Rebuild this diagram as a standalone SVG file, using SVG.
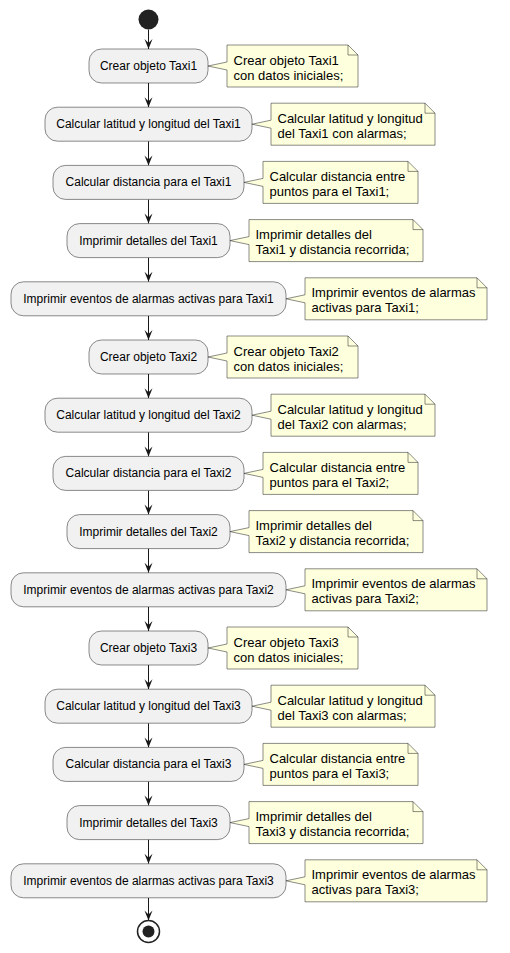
<svg xmlns="http://www.w3.org/2000/svg" width="510" height="953" viewBox="0 0 510 953">
<style>
.bg{fill:#FFFFFF}
.act rect{fill:#F1F1F1;stroke:#181818;stroke-width:0.5}
.act text{font-family:"Liberation Sans",Arial,sans-serif;font-size:12px;fill:#000000;text-anchor:middle}
.note path.b{fill:#FEFFDD;stroke:#181818;stroke-width:0.5}
.note path.f{fill:none;stroke:#181818;stroke-width:0.5}
.note text{font-family:"Liberation Sans",Arial,sans-serif;font-size:13px;fill:#000000}
.conn line{stroke:#181818;stroke-width:1;marker-end:url(#ah)}
</style>
<defs>
<marker id="ah" markerUnits="userSpaceOnUse" markerWidth="12" markerHeight="10" refX="10" refY="4" orient="auto" overflow="visible">
<path d="M0,0 L10,4 L0,8 L4,4 Z" fill="#181818"/>
</marker>
</defs>
<rect class="bg" x="0" y="0" width="510" height="953"/>

<g id="connectors" class="conn">
<line x1="148.5" y1="29.5" x2="148.5" y2="49"/>
<line x1="148.5" y1="83" x2="148.5" y2="107.2"/>
<line x1="148.5" y1="141.2" x2="148.5" y2="165.4"/>
<line x1="148.5" y1="199.4" x2="148.5" y2="223.6"/>
<line x1="148.5" y1="257.6" x2="148.5" y2="281.8"/>
<line x1="148.5" y1="315.8" x2="148.5" y2="340"/>
<line x1="148.5" y1="374" x2="148.5" y2="398.2"/>
<line x1="148.5" y1="432.2" x2="148.5" y2="456.4"/>
<line x1="148.5" y1="490.4" x2="148.5" y2="514.6"/>
<line x1="148.5" y1="548.6" x2="148.5" y2="572.8"/>
<line x1="148.5" y1="606.8" x2="148.5" y2="631"/>
<line x1="148.5" y1="665" x2="148.5" y2="689.2"/>
<line x1="148.5" y1="723.2" x2="148.5" y2="747.4"/>
<line x1="148.5" y1="781.4" x2="148.5" y2="805.6"/>
<line x1="148.5" y1="839.6" x2="148.5" y2="863.8"/>
<line x1="148.5" y1="897.8" x2="148.5" y2="920.5"/>
</g>

<g id="start"><circle cx="148.5" cy="19.5" r="10" fill="#222222"/></g>

<g id="a1" class="act"><rect x="89" y="49" width="119" height="34" rx="12.5"/><text x="148.5" y="70">Crear objeto Taxi1</text></g>
<g id="n1" class="note"><path class="b" d="M227,45 L227,62 L208,66 L227,70 L227,87 L358,87 L358,55 L348,45 Z"/><path class="f" d="M348,45 L348,55 L358,55"/><text x="233.5" y="64.5">Crear objeto Taxi1</text><text x="233.5" y="79.5">con datos iniciales;</text></g>

<g id="a2" class="act"><rect x="45" y="107.2" width="207" height="34" rx="12.5"/><text x="148.5" y="128.2">Calcular latitud y longitud del Taxi1</text></g>
<g id="n2" class="note"><path class="b" d="M271,103.2 L271,120.2 L252,124.2 L271,128.2 L271,145.2 L435,145.2 L435,113.2 L425,103.2 Z"/><path class="f" d="M425,103.2 L425,113.2 L435,113.2"/><text x="277.5" y="122.7">Calcular latitud y longitud</text><text x="277.5" y="137.7">del Taxi1 con alarmas;</text></g>

<g id="a3" class="act"><rect x="53" y="165.4" width="191" height="34" rx="12.5"/><text x="148.5" y="186.4">Calcular distancia para el Taxi1</text></g>
<g id="n3" class="note"><path class="b" d="M263,161.4 L263,178.4 L244,182.4 L263,186.4 L263,203.4 L418,203.4 L418,171.4 L408,161.4 Z"/><path class="f" d="M408,161.4 L408,171.4 L418,171.4"/><text x="269.5" y="180.9">Calcular distancia entre</text><text x="269.5" y="195.9">puntos para el Taxi1;</text></g>

<g id="a4" class="act"><rect x="67" y="223.6" width="163" height="34" rx="12.5"/><text x="148.5" y="244.6">Imprimir detalles del Taxi1</text></g>
<g id="n4" class="note"><path class="b" d="M249,219.6 L249,236.6 L230,240.6 L249,244.6 L249,261.6 L423,261.6 L423,229.6 L413,219.6 Z"/><path class="f" d="M413,219.6 L413,229.6 L423,229.6"/><text x="255.5" y="239.1">Imprimir detalles del</text><text x="255.5" y="254.1">Taxi1 y distancia recorrida;</text></g>

<g id="a5" class="act"><rect x="11" y="281.8" width="275" height="34" rx="12.5"/><text x="148.5" y="302.8">Imprimir eventos de alarmas activas para Taxi1</text></g>
<g id="n5" class="note"><path class="b" d="M305,277.8 L305,294.8 L286,298.8 L305,302.8 L305,319.8 L487,319.8 L487,287.8 L477,277.8 Z"/><path class="f" d="M477,277.8 L477,287.8 L487,287.8"/><text x="311.5" y="297.3">Imprimir eventos de alarmas</text><text x="311.5" y="312.3">activas para Taxi1;</text></g>

<g id="a6" class="act"><rect x="89" y="340" width="119" height="34" rx="12.5"/><text x="148.5" y="361">Crear objeto Taxi2</text></g>
<g id="n6" class="note"><path class="b" d="M227,336 L227,353 L208,357 L227,361 L227,378 L358,378 L358,346 L348,336 Z"/><path class="f" d="M348,336 L348,346 L358,346"/><text x="233.5" y="355.5">Crear objeto Taxi2</text><text x="233.5" y="370.5">con datos iniciales;</text></g>

<g id="a7" class="act"><rect x="45" y="398.2" width="207" height="34" rx="12.5"/><text x="148.5" y="419.2">Calcular latitud y longitud del Taxi2</text></g>
<g id="n7" class="note"><path class="b" d="M271,394.2 L271,411.2 L252,415.2 L271,419.2 L271,436.2 L435,436.2 L435,404.2 L425,394.2 Z"/><path class="f" d="M425,394.2 L425,404.2 L435,404.2"/><text x="277.5" y="413.7">Calcular latitud y longitud</text><text x="277.5" y="428.7">del Taxi2 con alarmas;</text></g>

<g id="a8" class="act"><rect x="53" y="456.4" width="191" height="34" rx="12.5"/><text x="148.5" y="477.4">Calcular distancia para el Taxi2</text></g>
<g id="n8" class="note"><path class="b" d="M263,452.4 L263,469.4 L244,473.4 L263,477.4 L263,494.4 L418,494.4 L418,462.4 L408,452.4 Z"/><path class="f" d="M408,452.4 L408,462.4 L418,462.4"/><text x="269.5" y="471.9">Calcular distancia entre</text><text x="269.5" y="486.9">puntos para el Taxi2;</text></g>

<g id="a9" class="act"><rect x="67" y="514.6" width="163" height="34" rx="12.5"/><text x="148.5" y="535.6">Imprimir detalles del Taxi2</text></g>
<g id="n9" class="note"><path class="b" d="M249,510.6 L249,527.6 L230,531.6 L249,535.6 L249,552.6 L423,552.6 L423,520.6 L413,510.6 Z"/><path class="f" d="M413,510.6 L413,520.6 L423,520.6"/><text x="255.5" y="530.1">Imprimir detalles del</text><text x="255.5" y="545.1">Taxi2 y distancia recorrida;</text></g>

<g id="a10" class="act"><rect x="11" y="572.8" width="275" height="34" rx="12.5"/><text x="148.5" y="593.8">Imprimir eventos de alarmas activas para Taxi2</text></g>
<g id="n10" class="note"><path class="b" d="M305,568.8 L305,585.8 L286,589.8 L305,593.8 L305,610.8 L487,610.8 L487,578.8 L477,568.8 Z"/><path class="f" d="M477,568.8 L477,578.8 L487,578.8"/><text x="311.5" y="588.3">Imprimir eventos de alarmas</text><text x="311.5" y="603.3">activas para Taxi2;</text></g>

<g id="a11" class="act"><rect x="89" y="631" width="119" height="34" rx="12.5"/><text x="148.5" y="652">Crear objeto Taxi3</text></g>
<g id="n11" class="note"><path class="b" d="M227,627 L227,644 L208,648 L227,652 L227,669 L358,669 L358,637 L348,627 Z"/><path class="f" d="M348,627 L348,637 L358,637"/><text x="233.5" y="646.5">Crear objeto Taxi3</text><text x="233.5" y="661.5">con datos iniciales;</text></g>

<g id="a12" class="act"><rect x="45" y="689.2" width="207" height="34" rx="12.5"/><text x="148.5" y="710.2">Calcular latitud y longitud del Taxi3</text></g>
<g id="n12" class="note"><path class="b" d="M271,685.2 L271,702.2 L252,706.2 L271,710.2 L271,727.2 L435,727.2 L435,695.2 L425,685.2 Z"/><path class="f" d="M425,685.2 L425,695.2 L435,695.2"/><text x="277.5" y="704.7">Calcular latitud y longitud</text><text x="277.5" y="719.7">del Taxi3 con alarmas;</text></g>

<g id="a13" class="act"><rect x="53" y="747.4" width="191" height="34" rx="12.5"/><text x="148.5" y="768.4">Calcular distancia para el Taxi3</text></g>
<g id="n13" class="note"><path class="b" d="M263,743.4 L263,760.4 L244,764.4 L263,768.4 L263,785.4 L418,785.4 L418,753.4 L408,743.4 Z"/><path class="f" d="M408,743.4 L408,753.4 L418,753.4"/><text x="269.5" y="762.9">Calcular distancia entre</text><text x="269.5" y="777.9">puntos para el Taxi3;</text></g>

<g id="a14" class="act"><rect x="67" y="805.6" width="163" height="34" rx="12.5"/><text x="148.5" y="826.6">Imprimir detalles del Taxi3</text></g>
<g id="n14" class="note"><path class="b" d="M249,801.6 L249,818.6 L230,822.6 L249,826.6 L249,843.6 L423,843.6 L423,811.6 L413,801.6 Z"/><path class="f" d="M413,801.6 L413,811.6 L423,811.6"/><text x="255.5" y="821.1">Imprimir detalles del</text><text x="255.5" y="836.1">Taxi3 y distancia recorrida;</text></g>

<g id="a15" class="act"><rect x="11" y="863.8" width="275" height="34" rx="12.5"/><text x="148.5" y="884.8">Imprimir eventos de alarmas activas para Taxi3</text></g>
<g id="n15" class="note"><path class="b" d="M305,859.8 L305,876.8 L286,880.8 L305,884.8 L305,901.8 L487,901.8 L487,869.8 L477,859.8 Z"/><path class="f" d="M477,859.8 L477,869.8 L487,869.8"/><text x="311.5" y="879.3">Imprimir eventos de alarmas</text><text x="311.5" y="894.3">activas para Taxi3;</text></g>

<g id="end"><circle cx="148.5" cy="931.5" r="11" fill="none" stroke="#222222" stroke-width="1.5"/><circle cx="148.5" cy="931.5" r="6" fill="#222222"/></g>
</svg>
